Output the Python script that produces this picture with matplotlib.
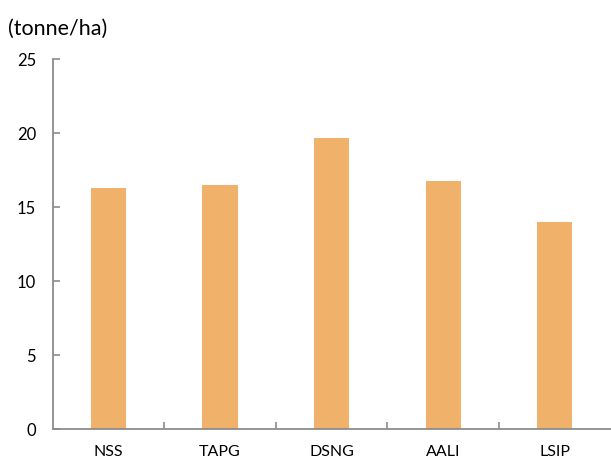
import matplotlib
matplotlib.use("Agg")
import matplotlib.pyplot as plt
import numpy as np

# ============================================================
#  Data
# ============================================================
companies = ["NSS", "TAPG", "DSNG", "AALI", "LSIP"]
yield_t_ha = [16.3, 16.5, 19.7, 16.8, 14.0]
y_ticks = [0, 5, 10, 15, 20, 25]

bar_color = "#F0B26B"
axis_color = "#8C8C8C"

plt.rcParams["font.family"] = ["Lato", "DejaVu Sans"]

fig = plt.figure(figsize=(6.11, 4.61), dpi=100)
ax = fig.add_axes([0.0862, 0.0688, 0.9133, 0.8026])

x = np.arange(len(companies))
ax.bar(x, yield_t_ha, width=0.315, color=bar_color, zorder=2)

ax.set_xlim(-0.5, len(companies) - 0.5)
ax.set_ylim(0, 25)
ax.set_yticks(y_ticks)
ax.set_yticklabels([str(v) for v in y_ticks], fontsize=12)

# category labels centred, tick marks at category boundaries
ax.set_xticks(x)
ax.set_xticklabels(companies, fontsize=11.5)
ax.set_xticks(x[:-1] + 0.5, minor=True)
ax.tick_params(axis="x", which="major", length=0, pad=11)
ax.tick_params(axis="x", which="minor", direction="in", length=5,
               width=1.2, color=axis_color)
ax.tick_params(axis="y", direction="in", length=5, width=1.2,
               color=axis_color, pad=12)

for side in ["top", "right"]:
    ax.spines[side].set_visible(False)
for side in ["left", "bottom"]:
    ax.spines[side].set_color(axis_color)
    ax.spines[side].set_linewidth(1.3)

fig.text(0.013, 1 - 29 / 461, "(tonne/ha)", fontsize=15.5, va="center", ha="left")

fig.savefig("out.png", dpi=100)
